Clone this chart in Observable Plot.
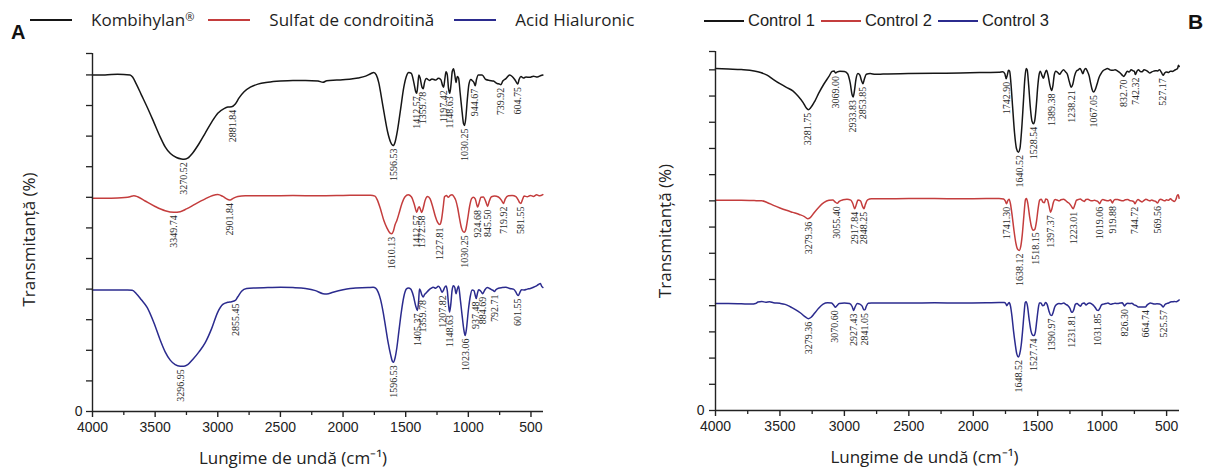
<!DOCTYPE html>
<html><head><meta charset="utf-8">
<script src="https://cdn.jsdelivr.net/npm/d3@7"></script>
<script src="https://cdn.jsdelivr.net/npm/@observablehq/plot@0.6"></script>
<style>
body{margin:0;background:#fff;}
#wrap{position:relative;width:1207px;height:470px;overflow:hidden;background:#fff;}
.panel{position:absolute;top:40px;}
.leg{position:absolute;display:flex;align-items:center;white-space:nowrap;color:#1e1e1e;}
.leg .ln{display:inline-block;height:2px;}
.tag{position:absolute;font-family:"Liberation Sans",Arial,sans-serif;font-weight:bold;color:#111;}
</style></head><body><div id="wrap"></div>
<script>
// ---------- Panel A data (wavenumber cm-1, transmittance offset units) ----------
const kombihylan = [[4000,110],[3900,110],[3800,110.2],[3700,110],[3680,109.3],[3650,107],[3610,103.5],[3564,99.5],[3510,94.5],[3458,89.6],[3420,86.5],[3378,84.3],[3330,83],[3290,82.5],[3270,82.4],[3240,82.8],[3200,84.5],[3150,87.5],[3100,91],[3050,94.5],[3000,97.5],[2950,99],[2920,99.5],[2890,99.6],[2860,100.5],[2830,102.5],[2790,104.5],[2740,106],[2680,107],[2600,107.6],[2500,108],[2400,108.2],[2300,108.2],[2200,108],[2160,107.6],[2130,108.1],[2050,108.3],[1950,108.6],[1880,109],[1820,109.6],[1780,110.4],[1755,110.8],[1735,110],[1715,107.5],[1695,103],[1670,97],[1645,91.5],[1620,88],[1600,86.9],[1585,88],[1565,92],[1540,99],[1515,106],[1495,109.5],[1475,110.8],[1455,110.5],[1435,107.5],[1420,104.5],[1412,104],[1405,106],[1395,110],[1385,109],[1370,106],[1360,105.5],[1350,107.5],[1335,108.8],[1310,108.2],[1290,108.7],[1260,108.3],[1240,108.9],[1220,108.5],[1205,106.5],[1197,106],[1188,108.5],[1178,111],[1168,110],[1158,105.5],[1148,104],[1138,107],[1128,111.2],[1118,112],[1108,110],[1098,107.5],[1088,109.5],[1078,109],[1065,104],[1050,98],[1038,94],[1030,93.5],[1020,96],[1008,102],[995,107],[980,108.5],[965,108],[955,107.5],[945,106.5],[935,108.5],[920,110],[890,110],[860,108.5],[830,108.2],[800,108],[770,107.2],[750,107],[740,106.8],[725,108],[700,108.8],[670,110],[650,109.5],[630,108.5],[615,107.5],[605,107],[595,108.5],[580,109.5],[560,109],[540,109.3],[510,109.2],[480,109.6],[450,109.3],[420,109.8],[405,110]];
const sulfatCondroitina = [[4000,69.7],[3900,69.7],[3800,69.8],[3700,70.2],[3670,70.5],[3640,70.2],[3580,68.8],[3500,67],[3420,65.6],[3350,65.1],[3300,65.3],[3250,66.2],[3180,67.8],[3100,69.5],[3040,70.6],[3000,70.9],[2960,70.3],[2920,69.3],[2900,69.1],[2880,69.6],[2840,70.3],[2780,70.5],[2600,70.5],[2400,70.6],[2200,70.5],[2000,70.6],[1850,70.7],[1780,70.7],[1745,70.4],[1725,69],[1700,66],[1675,62.5],[1650,60],[1625,58.3],[1612,58.1],[1598,59],[1585,61],[1570,62.5],[1555,64.5],[1530,68],[1505,70.2],[1480,70.8],[1455,70.2],[1430,67.5],[1412,65.1],[1400,66.5],[1392,66.9],[1382,66],[1372,65],[1360,66.5],[1345,69],[1325,70.3],[1305,69.5],[1285,67],[1265,64],[1245,61.8],[1228,61.1],[1215,62.5],[1200,67],[1190,70.2],[1175,70.6],[1160,70],[1145,70.6],[1130,70.8],[1115,70.2],[1100,69],[1085,66.5],[1070,63],[1055,60],[1040,58.7],[1030,58.6],[1020,59.5],[1005,63],[990,67],[975,69.5],[960,70],[945,69.5],[932,67.5],[925,66.8],[915,68],[900,70],[880,70.1],[860,68.5],[846,67],[835,68.5],[815,70.2],[790,70.4],[760,70.1],[735,69],[720,68],[705,69.5],[680,70.5],[650,70.6],[620,70.2],[600,69],[590,68.2],[580,68],[570,69],[555,70.4],[530,70.2],[505,70.6],[480,70.3],[455,70.8],[430,70.5],[405,70.9]];
const acidHialuronic = [[4000,39.7],[3900,39.7],[3800,39.7],[3720,39.7],[3683,39.6],[3650,38.5],[3610,36.5],[3564,34],[3510,29],[3458,23.2],[3420,19.5],[3378,16.7],[3340,15.3],[3300,14.8],[3270,14.8],[3240,15.3],[3200,17],[3150,19.5],[3100,22.5],[3050,27],[3000,32.5],[2960,35],[2920,35.7],[2890,35.9],[2860,36.3],[2840,37.5],[2810,39.3],[2770,40.2],[2700,40.4],[2600,40.5],[2500,40.6],[2400,40.5],[2300,40.2],[2220,39.5],[2160,38.5],[2130,38.4],[2080,39],[2000,39.8],[1900,40.4],[1800,40.5],[1760,40.6],[1740,40.3],[1720,39],[1700,36.5],[1680,32.5],[1660,27.5],[1640,22.5],[1620,18.5],[1605,16.3],[1597,16.1],[1585,17.5],[1570,21],[1555,26],[1535,32.5],[1515,37.5],[1495,40],[1478,40.4],[1460,40],[1440,38],[1420,34.5],[1407,33],[1397,36],[1390,40],[1382,39.5],[1370,38],[1360,37.4],[1350,38.2],[1335,38.8],[1320,39.5],[1300,40.2],[1280,40.6],[1260,40.3],[1240,40.9],[1225,40.3],[1210,39],[1200,39.5],[1190,40.5],[1178,41],[1168,39.5],[1158,35],[1150,32.5],[1140,35],[1130,39.5],[1120,41.1],[1108,40.5],[1098,38.5],[1088,40],[1078,41],[1065,37],[1050,31.5],[1035,26.5],[1025,24.8],[1015,27],[1000,33],[985,37.5],[970,39.7],[955,39.5],[945,38],[937,36.9],[928,38.5],[918,39.8],[905,39.5],[895,39],[885,38.5],[870,39.6],[850,40.5],[830,40.2],[815,39.8],[800,39.5],[792,39.2],[780,39.8],[760,40.3],[730,40.5],[700,40.6],[670,40.2],[640,40],[620,39],[610,38.2],[601,37.9],[590,38.8],[575,39.8],[555,39.7],[530,40],[505,40.2],[480,40.6],[460,41],[440,41.5],[425,41.8],[415,41],[405,40.5]];

const kombihylanPeaks = ["3270.52","2881.84","1596.53","1412.57","1359.78","1197.42","1148.63","1030.25","944.67","739.92","604.75"];
const sulfatPeaks = ["3349.74","2901.84","1610.13","1412.57","1372.58","1227.81","1030.25","924.68","845.50","719.92","581.55"];
const hialuronicPeaks = ["3296.95","2855.45","1596.53","1405.37","1359.78","1207.82","1148.63","1023.06","937.48","884.69","792.71","601.55"];

// ---------- Panel B data ----------
const control1 = [[4000,130.5],[3900,130.3],[3800,130.1],[3700,129.6],[3650,129],[3600,128],[3550,126.3],[3500,124.7],[3450,123.3],[3400,122],[3360,120],[3320,117.5],[3295,115.4],[3280,114.8],[3262,115.5],[3230,118],[3200,121],[3160,124.5],[3120,127.5],[3095,129.4],[3080,129.6],[3069,128.8],[3055,129.2],[3035,129.5],[3000,129.4],[2975,128.5],[2955,125],[2940,120.5],[2932,119.6],[2922,122],[2910,126.5],[2895,128.6],[2880,128],[2868,126],[2856,124.7],[2845,126.5],[2830,128.3],[2800,128.6],[2760,128.3],[2700,128.4],[2500,128.6],[2300,128.7],[2100,128.8],[1900,129],[1800,129.1],[1770,129.3],[1755,128.5],[1745,126.6],[1736,128],[1727,129.8],[1718,129.5],[1708,125],[1695,116],[1680,106],[1665,100],[1650,98.6],[1638,100],[1625,107],[1612,117],[1600,126.5],[1590,130.5],[1582,130],[1570,124],[1558,116],[1545,110.5],[1532,109.4],[1522,111],[1510,117],[1500,123.5],[1490,128],[1480,129.5],[1468,128],[1455,126.8],[1445,128.5],[1432,129.8],[1420,128],[1405,124],[1392,122.1],[1382,124],[1372,128],[1360,129.5],[1345,129],[1330,128.3],[1315,129.3],[1300,130],[1285,129.3],[1270,128.3],[1255,125.5],[1240,123.4],[1228,124.5],[1215,127.5],[1200,129.5],[1185,130],[1172,130.5],[1160,129.6],[1150,128.5],[1140,129.8],[1128,130.5],[1115,129.5],[1100,127.5],[1090,125],[1078,122.5],[1067,121.5],[1055,122.3],[1040,124.5],[1025,127],[1010,128.5],[995,129.6],[975,130.2],[960,130.5],[940,130],[920,129.8],[900,130],[880,129.5],[860,128.8],[845,128],[833,127.5],[820,128.3],[805,129.5],[790,129.2],[775,130],[760,129.6],[750,129.4],[742,128.2],[730,129.5],[718,130],[705,129.4],[690,129.3],[675,130],[660,129.8],[645,129.3],[630,128.8],[615,129.2],[600,129.5],[585,129.7],[570,129.6],[555,130],[540,129],[527,127.9],[515,128.8],[500,129.2],[485,129],[470,129.5],[455,129.4],[440,129.8],[425,130.2],[415,130.5],[408,131.8],[402,131.3]];
const control2 = [[4000,80.2],[3900,80.2],[3800,80.2],[3700,80.1],[3640,80],[3600,79.4],[3550,78.3],[3500,77.3],[3450,76.4],[3400,75.6],[3350,74.8],[3310,74],[3285,73.2],[3265,73.6],[3235,75.5],[3200,77.5],[3160,79.3],[3120,80.2],[3090,80.3],[3070,79.5],[3055,79.1],[3040,79.8],[3010,80.4],[2980,80.6],[2950,80.3],[2935,79],[2920,77],[2908,78.5],[2895,80.3],[2875,80],[2860,78],[2848,77],[2838,78.5],[2820,80.4],[2790,80.8],[2700,80.8],[2500,80.9],[2300,80.9],[2100,80.8],[1900,80.9],[1800,80.9],[1765,80.7],[1752,80],[1742,78.9],[1733,80],[1722,80.6],[1712,79],[1700,75],[1685,69],[1670,64],[1655,61.5],[1643,61.1],[1632,62.5],[1620,67],[1607,74.5],[1595,80.5],[1587,80.9],[1577,79],[1563,74],[1548,70],[1535,68.8],[1522,69.2],[1510,72],[1497,77],[1485,80.3],[1472,80.6],[1460,79.5],[1448,79.3],[1438,80.7],[1425,80.5],[1412,78],[1400,75.7],[1390,77],[1378,79.5],[1365,80.5],[1350,80.3],[1335,80],[1320,80.4],[1300,80.6],[1285,80.2],[1270,79.5],[1255,79],[1240,78],[1225,77],[1212,78.5],[1200,80.2],[1185,80.5],[1170,80.7],[1155,80.2],[1140,79.8],[1125,80.5],[1110,80.6],[1095,80.2],[1080,80],[1060,80.2],[1045,80],[1030,79.6],[1020,78.9],[1008,80],[995,80.5],[975,80.2],[955,80],[935,80.4],[925,79.5],[920,79.2],[912,80],[900,80.5],[880,80.5],[860,80.2],[840,80],[820,80.4],[800,80.5],[785,80.1],[770,80],[755,79.7],[745,78.9],[735,79.8],[722,80.5],[705,80],[690,79.6],[675,80.2],[660,80.6],[645,80.3],[630,80],[615,80.3],[600,80],[585,79.8],[570,79.2],[558,80.2],[545,80.6],[530,80.3],[515,80],[500,80.4],[485,80.2],[470,80.8],[455,80.2],[440,79.8],[428,80.5],[418,82],[410,82.3],[403,81]];
const control3 = [[4000,40.8],[3900,40.8],[3800,40.7],[3720,40.6],[3690,40.8],[3670,41.4],[3640,41.6],[3610,41.3],[3580,41.5],[3550,41.1],[3500,40.9],[3460,40.5],[3420,39.6],[3380,38.5],[3340,37.2],[3300,35.6],[3280,35],[3260,35.5],[3230,37.2],[3200,39],[3165,40.6],[3130,41.1],[3100,41],[3080,40],[3070,39.4],[3058,40],[3040,40.8],[3000,41],[2960,40.8],[2940,39.7],[2928,38.2],[2917,39.5],[2900,40.8],[2880,40.6],[2862,39.8],[2848,38.4],[2840,38.5],[2830,39.8],[2815,40.9],[2790,41],[2700,41],[2500,41],[2300,41.1],[2100,41],[1900,41.1],[1800,41.2],[1760,41.2],[1748,40.8],[1740,40],[1733,40.5],[1722,41.2],[1712,40],[1700,36],[1688,30.5],[1675,25.5],[1662,21.5],[1650,20.4],[1640,21.5],[1628,25],[1618,30],[1606,37],[1597,41.2],[1590,41.5],[1580,40],[1567,35],[1553,30.5],[1540,28.8],[1528,28.6],[1518,30],[1508,34],[1497,38.5],[1487,41],[1475,41],[1462,40],[1450,40.2],[1440,41.2],[1427,40.5],[1413,38],[1400,36.4],[1390,36.3],[1380,37.5],[1368,39.5],[1352,40.5],[1335,40.8],[1315,40.7],[1298,41],[1282,40.5],[1265,40],[1250,39],[1238,37.6],[1230,37.5],[1220,38.5],[1208,40.5],[1195,40.8],[1180,40.2],[1168,39.8],[1155,40.8],[1140,41],[1125,40.3],[1112,40.8],[1098,41],[1080,40.6],[1065,40],[1050,39],[1040,38.3],[1030,38.2],[1018,39],[1005,40.3],[990,40.6],[970,40.8],[955,41],[935,40.5],[918,40.7],[900,40.9],[880,40.8],[860,41],[845,41.1],[835,40.5],[826,39.9],[815,40.6],[800,40.9],[785,40.8],[770,40.9],[752,40.3],[735,40],[720,39.5],[700,39.5],[685,39.5],[665,39.5],[652,40.2],[640,40.7],[625,41],[610,40.8],[595,40.6],[575,40.7],[555,40.6],[540,40.2],[526,39.5],[514,40.4],[500,40.8],[485,41],[470,41.4],[455,41.5],[440,41.6],[425,41.5],[412,41.8],[403,42.2]];

const control1Peaks = ["3281.75","3069.00","2933.83","2853.85","1742.90","1640.52","1528.54","1389.38","1238.21","1067.05","832.70","742.32","527.17"];
const control2Peaks = ["3279.36","3055.40","2917.84","2848.25","1741.30","1638.12","1518.15","1397.37","1223.01","1019.06","919.88","744.72","569.56"];
const control3Peaks = ["3279.36","3070.60","2927.43","2841.05","1648.52","1527.74","1390.97","1231.81","1031.85","826.30","664.74","525.57"];

// ---------- ticks, labels ----------
const xMajor = [4000,3500,3000,2500,2000,1500,1000,500];
const xMinor = [3750,3250,2750,2250,1750,1250,750];
const yTicksA = [0,10,20,30,40,50,60,70,80,90,100,110,117];
const yTicksB = [0,10,20,30,40,50,60,70,80,90,100,110,120,130,137];
const legendA = ["Kombihylan", "Sulfat de condroitină", "Acid Hialuronic"];
const legendB = ["Control 1", "Control 2", "Control 3"];
const xTitle = "Lungime de undă (cm⁻¹)";
const yTitle = "Transmitanță (%)";

const BLACK = "#161616", RED = "#c43d3d", BLUE = "#2b2b8e", AX = "#222";

function interp(data, w) {
  for (let i = 0; i < data.length - 1; i++) {
    const [x0, y0] = data[i], [x1, y1] = data[i + 1];
    if (w <= x0 && w >= x1) return y0 + (y1 - y0) * (w - x0) / (x1 - x0);
  }
  return data[data.length - 1][1];
}
function dip(data, w) {
  let v = interp(data, w);
  for (const [x, y] of data) if (Math.abs(x - w) <= 10) v = Math.min(v, y);
  return v;
}

function panel(cfg) {
  const H = 430;
  const fw = cfg.width - cfg.ml - cfg.mr, fh = H - cfg.mt - cfg.mb;
  const marks = [];
  for (const s of cfg.series) {
    marks.push(Plot.line(s.data, {x: d => d[0], y: d => d[1], stroke: s.color, strokeWidth: 1.5, curve: "monotone-x"}));
  }
  for (const s of cfg.series) {
    marks.push(Plot.text(s.peaks, {x: d => +d, y: d => dip(s.data, +d), text: d => d, rotate: -90, textAnchor: "end", lineAnchor: "middle", dy: 3,
      fontFamily: "Liberation Serif, serif", fontSize: 10, fill: "#2a2a2a"}));
  }
  // tick marks drawn explicitly (outward)
  marks.push(Plot.tickY(cfg.yTicks, {y: d => d, insetRight: fw - 6, dx: -6, stroke: AX, strokeWidth: 1.3}));
  marks.push(Plot.tickX(xMajor, {x: d => d, insetTop: fh - 6, dy: 6, stroke: AX, strokeWidth: 1.4}));
  marks.push(Plot.tickX(xMinor, {x: d => d, insetTop: fh - 4, dy: 4, stroke: AX, strokeWidth: 1.3}));
  // tick labels
  marks.push(Plot.axisX({ticks: xMajor, tickSize: 0, tickPadding: 11, tickFormat: d => String(d), label: null, fontSize: 14}));
  marks.push(Plot.axisY({ticks: [0], tickSize: 0, tickPadding: 6 + cfg.yPad, tickFormat: d => String(d), label: null, fontSize: 14}));
  // axis lines
  marks.push(Plot.ruleY([0], {stroke: AX, strokeWidth: 1.4}));
  marks.push(Plot.ruleX([4000], {stroke: AX, strokeWidth: 1.4}));
  // axis titles
  marks.push(Plot.text([xTitle], {text: d => d, frameAnchor: "bottom", textAnchor: "middle", lineAnchor: "middle", dy: 47, dx: cfg.xtDx, fontSize: 17, fontFamily: "Open Sans, sans-serif", fill: AX}));
  marks.push(Plot.text([yTitle], {text: d => d, frameAnchor: "left", textAnchor: "middle", lineAnchor: "middle", rotate: -90, dx: cfg.ytDx, dy: cfg.ytDy, fontSize: 17, fontFamily: "Open Sans, sans-serif", fill: AX}));
  return Plot.plot({
    width: cfg.width, height: H,
    marginLeft: cfg.ml, marginRight: cfg.mr, marginTop: cfg.mt, marginBottom: cfg.mb,
    x: {domain: [4000, 400]},
    y: {domain: cfg.yDomain},
    style: {fontFamily: "Liberation Sans, Arial, sans-serif", fontSize: "14px", color: AX, background: "transparent", overflow: "visible"},
    marks
  });
}

const wrap = document.getElementById("wrap");

const pA = panel({
  width: 603, ml: 92, mr: 60, mt: 13, mb: 59, yDomain: [0, 117], yTicks: yTicksA, yPad: 4,
  xtDx: -25, ytDx: -63, ytDy: 7,
  series: [
    {data: kombihylan, color: BLACK, peaks: kombihylanPeaks},
    {data: sulfatCondroitina, color: RED, peaks: sulfatPeaks},
    {data: acidHialuronic, color: BLUE, peaks: hialuronicPeaks}
  ]
});
pA.classList.add("panel"); pA.style.left = "0px";
wrap.appendChild(pA);

const pB = panel({
  width: 604, ml: 112, mr: 28, mt: 11, mb: 60, yDomain: [0, 137], yTicks: yTicksB, yPad: 5,
  xtDx: -23, ytDx: -50, ytDy: 0,
  series: [
    {data: control1, color: BLACK, peaks: control1Peaks},
    {data: control2, color: RED, peaks: control2Peaks},
    {data: control3, color: BLUE, peaks: control3Peaks}
  ]
});
pB.classList.add("panel"); pB.style.left = "603px";
wrap.appendChild(pB);

// ---------- legends & panel tags ----------
function tag(txt, left, top, size) {
  const t = document.createElement("div");
  t.className = "tag"; t.textContent = txt;
  t.style.left = left + "px"; t.style.top = top + "px"; t.style.fontSize = size + "px";
  wrap.appendChild(t);
}
tag("A", 11, 21, 20);
tag("B", 1188, 10, 21);

function legend(items, colors, left, top, font, size, lineW, gapIn, gapOut) {
  const L = document.createElement("div");
  L.className = "leg";
  L.style.left = left + "px"; L.style.top = top + "px";
  L.style.fontFamily = font; L.style.fontSize = size + "px";
  items.forEach((name, i) => {
    const ln = document.createElement("span");
    ln.className = "ln"; ln.style.width = lineW + "px"; ln.style.background = colors[i];
    ln.style.marginRight = gapIn + "px";
    if (i > 0) ln.style.marginLeft = gapOut[i - 1] + "px";
    L.appendChild(ln);
    const tx = document.createElement("span");
    tx.textContent = name;
    if (name === "Kombihylan") {
      const r = document.createElement("span");
      r.textContent = "®"; r.style.fontSize = "11px"; r.style.verticalAlign = "5px";
      tx.appendChild(r);
    }
    L.appendChild(tx);
  });
  wrap.appendChild(L);
}
legend(legendA, [BLACK, RED, BLUE], 30, 8, "'Open Sans', sans-serif", 17, 42, 19, [14, 20]);
legend(legendB, [BLACK, RED, BLUE], 704, 11, "'Liberation Sans', Arial, sans-serif", 16.5, 40, 4, [6, 6]);
</script></body></html>
